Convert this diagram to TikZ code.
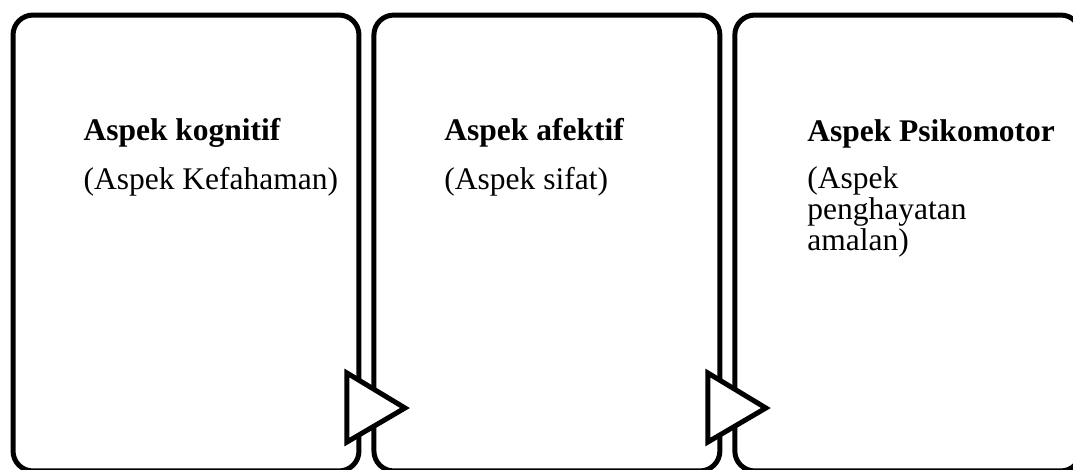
\documentclass[tikz,border=0pt]{standalone}
\usepackage{fontspec}
\setmainfont{Liberation Serif}
\usetikzlibrary{positioning,calc}
\tikzset{
	panel/.style={draw, line width=1.9pt, rounded corners=7.6pt, minimum width=131.8pt, minimum height=173.7pt, outer sep=0pt, inner sep=0pt},
	aspek/.style={anchor=base west, align=left, inner sep=0pt, font=\fontsize{12}{11.8}\selectfont},
	pointer/.style={draw, fill=white, line width=1.9pt, line join=miter}
}
\begin{document}
\begin{tikzpicture}[x=0.381pt, y=-0.381pt]
					\useasboundingbox (0,0) rectangle (1073,469);
					\clip (0,0) rectangle (1073,469);
					% Define the panels
					\node[panel] (kognitif) at (186,243) {};
					\node[panel, right=5.7pt of kognitif] (afektif) {};
					\node[panel, right=5.7pt of afektif] (psikomotor) {};
					% Add labels to the panels
					\node[aspek] (kognitifH) at ($(kognitif.north west)+(70,125)$) {\textbf{Aspek kognitif}};
					\node[aspek] (kognitifS) at ($(kognitifH.base west)+(0,49)$) {(Aspek Kefahaman)};
					\node[aspek] (afektifH) at ($(afektif.north west)+(70,125)$) {\textbf{Aspek afektif}};
					\node[aspek] (afektifS) at ($(afektifH.base west)+(0,49)$) {(Aspek sifat)};
					\node[aspek] (psikomotorH) at ($(psikomotor.north west)+(72,126)$) {\textbf{Aspek Psikomotor}};
					% last line of the node sits on its base
					\node[aspek] (psikomotorS) at ($(psikomotorH.base west)+(0,109)$) {(Aspek\\penghayatan\\amalan)};
					% Create pointers
					\foreach \p in {kognitif,afektif}
						\draw[pointer] ($(\p.east)+(-12,130)$) -- ($(\p.east)+(46,165)$) -- ($(\p.east)+(-12,199)$) -- cycle;
				\end{tikzpicture}
\end{document}
